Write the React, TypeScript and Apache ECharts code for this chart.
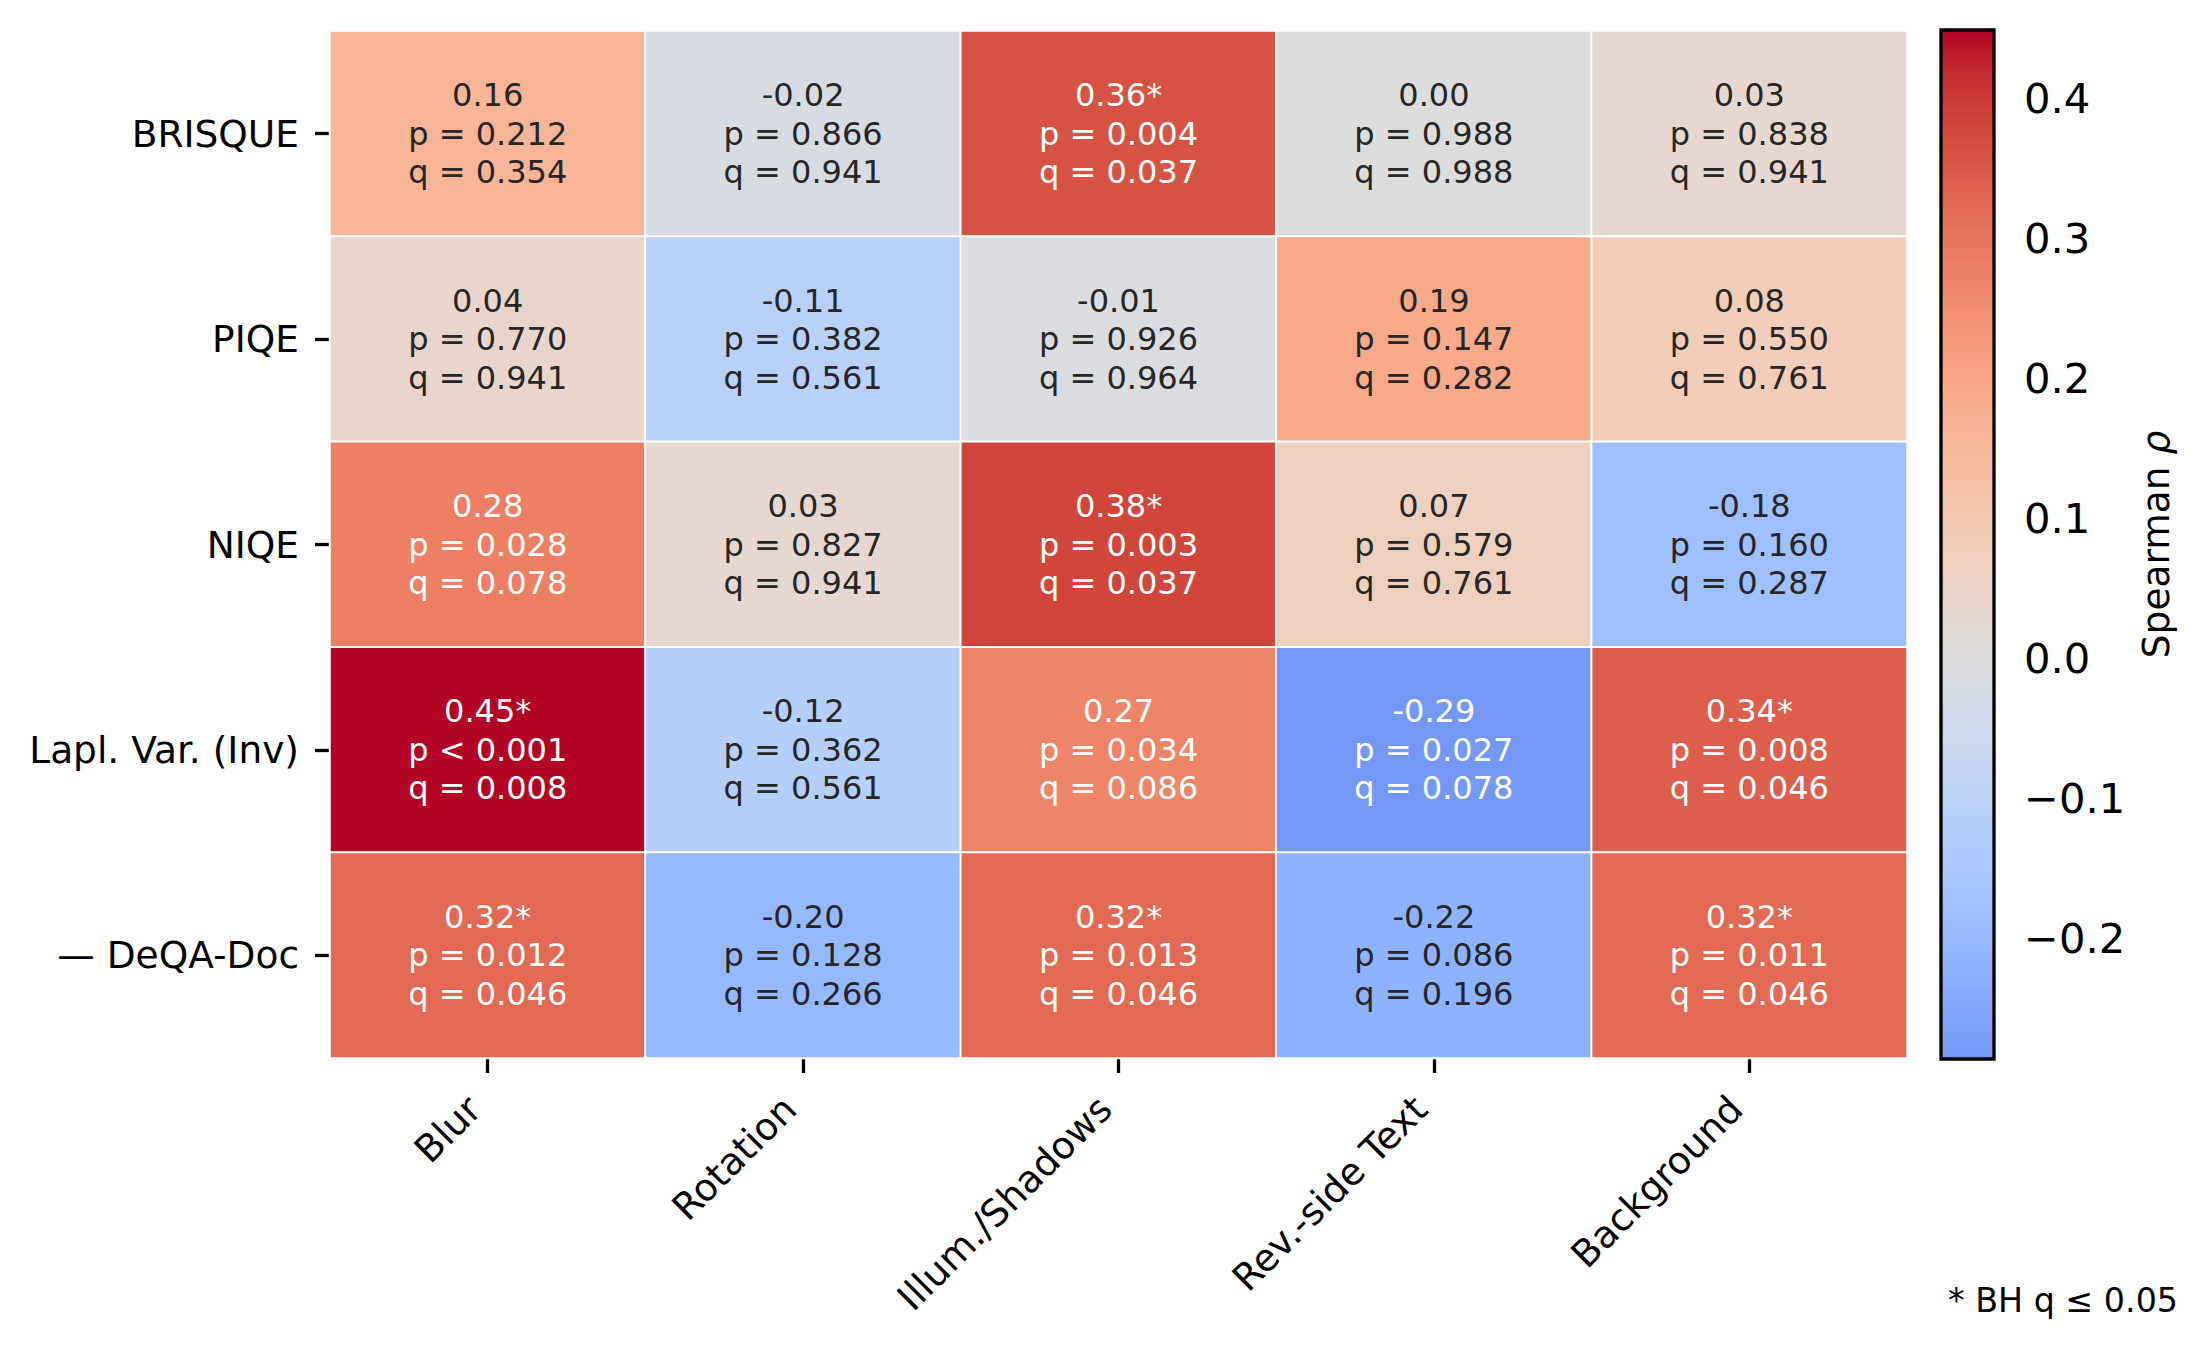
import React, { useEffect, useRef } from "react";
import * as echarts from "echarts";

const rowLabels = ["BRISQUE", "PIQE", "NIQE", "Lapl. Var. (Inv)", "— DeQA-Doc"];
const colLabels = ["Blur", "Rotation", "Illum./Shadows", "Rev.-side Text", "Background"];

const rhoValues = [
  [0.16, -0.02, 0.36, 0.0, 0.03],
  [0.04, -0.11, -0.01, 0.19, 0.08],
  [0.28, 0.03, 0.38, 0.07, -0.18],
  [0.449, -0.12, 0.27, -0.286, 0.34],
  [0.32, -0.2, 0.32, -0.22, 0.32],
];
const pValues = [
  [0.212, 0.866, 0.004, 0.988, 0.838],
  [0.77, 0.382, 0.926, 0.147, 0.55],
  [0.028, 0.827, 0.003, 0.579, 0.16],
  [0.0005, 0.362, 0.034, 0.027, 0.008],
  [0.012, 0.128, 0.013, 0.086, 0.011],
];
const qValues = [
  [0.354, 0.941, 0.037, 0.988, 0.941],
  [0.941, 0.561, 0.964, 0.282, 0.761],
  [0.078, 0.941, 0.037, 0.761, 0.287],
  [0.008, 0.561, 0.086, 0.078, 0.046],
  [0.046, 0.266, 0.046, 0.196, 0.046],
];
const colorbarTicks = [-0.2, -0.1, 0.0, 0.1, 0.2, 0.3, 0.4];
const qThreshold = 0.05;

// matplotlib "coolwarm" (Moreland) reference table, 33 stops
const COOLWARM: number[][] = [
  [59, 76, 192], [68, 90, 204], [77, 104, 215], [87, 117, 225], [98, 130, 234],
  [108, 142, 241], [119, 154, 247], [130, 165, 251], [141, 176, 254], [152, 185, 255],
  [163, 194, 255], [174, 201, 253], [184, 208, 249], [194, 213, 244], [204, 217, 238],
  [213, 219, 230], [221, 221, 221], [229, 216, 209], [236, 211, 197], [241, 204, 184],
  [245, 196, 172], [247, 187, 159], [247, 177, 147], [247, 166, 134], [244, 154, 123],
  [241, 141, 111], [236, 127, 99], [229, 112, 88], [222, 96, 77], [213, 80, 66],
  [203, 62, 56], [192, 40, 47], [180, 4, 38],
];

function coolwarm(u: number): number[] {
  const t = Math.max(0, Math.min(1, u)) * (COOLWARM.length - 1);
  const i = Math.min(Math.floor(t), COOLWARM.length - 2);
  const f = t - i;
  const a = COOLWARM[i], b = COOLWARM[i + 1];
  return [0, 1, 2].map((k) => a[k] + (b[k] - a[k]) * f);
}
const toHex = (c: number[]) =>
  "#" + c.map((v) => Math.round(v).toString(16).padStart(2, "0")).join("");

const flat = rhoValues.flat();
const vmin = Math.min(...flat);
const vmax = Math.max(...flat);
const vrange = Math.max(Math.abs(vmin), Math.abs(vmax)); // center = 0
const colorFor = (v: number) => coolwarm((v + vrange) / (2 * vrange));

function textColorFor(v: number) {
  const rgb = colorFor(v).map((c) => {
    const s = c / 255;
    return s <= 0.03928 ? s / 12.92 : Math.pow((s + 0.055) / 1.055, 2.4);
  });
  const lum = 0.2126 * rgb[0] + 0.7152 * rgb[1] + 0.0722 * rgb[2];
  return lum > 0.408 ? "#262626" : "#ffffff";
}

const N_STOPS = 80;
const visualColors: string[] = [];
for (let i = 0; i <= N_STOPS; i++) {
  const v = vmin + ((vmax - vmin) * i) / N_STOPS;
  visualColors.push(toHex(colorFor(v)));
}

const FONT = "DejaVu Sans";

export default function App() {
  const ref = useRef<HTMLDivElement>(null);
  useEffect(() => {
    if (!ref.current) return;
    const chart = echarts.init(ref.current, undefined, { renderer: "svg" });

    const heatData: any[] = [];
    rowLabels.forEach((_, r) => {
      colLabels.forEach((__, c) => {
        const v = rhoValues[r][c];
        heatData.push({
          value: [c, r, v],
          label: { color: textColorFor(v) },
        });
      });
    });

    const fmtTick = (v: number) => {
      const s = Math.abs(v).toFixed(1);
      return v < -1e-9 ? "\u2212" + s : s;
    };

    const option: any = {
      animation: false,
      backgroundColor: "#ffffff",
      textStyle: { fontFamily: FONT },
      grid: [
        { left: 330, top: 31, width: 1577, height: 1027, containLabel: false },
        { left: 1941, top: 30, width: 53, height: 1029, containLabel: false },
      ],
      xAxis: [
        {
          type: "category",
          gridIndex: 0,
          data: colLabels,
          position: "bottom",
          axisLine: { show: false },
          axisTick: { show: true, alignWithLabel: true, length: 15, lineStyle: { color: "#000", width: 3.3 } },
          axisLabel: {
            rotate: 45,
            align: "right",
            verticalAlign: "bottom",
            margin: 58,
            fontSize: 37.5,
            color: "#000",
            fontFamily: FONT,
            interval: 0,
          },
          splitLine: { show: false },
        },
        {
          type: "value",
          gridIndex: 1,
          min: 0,
          max: 1,
          show: false,
        },
      ],
      yAxis: [
        {
          type: "category",
          gridIndex: 0,
          data: rowLabels,
          inverse: true,
          axisLine: { show: false },
          axisTick: { show: true, alignWithLabel: true, length: 15, lineStyle: { color: "#000", width: 3.3 } },
          axisLabel: { margin: 31, fontSize: 37.5, color: "#000", fontFamily: FONT, interval: 0 },
          splitLine: { show: false },
        },
        {
          type: "value",
          gridIndex: 1,
          position: "right",
          min: vmin,
          max: vmax,
          axisLine: { show: false },
          splitLine: { show: false },
          axisTick: {
            show: true,
            length: 15,
            customValues: colorbarTicks,
            lineStyle: { color: "#000", width: 3.3 },
          },
          axisLabel: {
            customValues: colorbarTicks,
            margin: 30,
            fontSize: 41.7,
            color: "#000",
            fontFamily: FONT,
            formatter: (v: number) => fmtTick(v),
          },
          name: "Spearman {i|ρ}",
          nameLocation: "middle",
          nameRotate: 90,
          nameGap: 143,
          nameTextStyle: {
            fontSize: 37.5,
            color: "#000",
            fontFamily: FONT,
            rich: { i: { fontSize: 37.5, fontStyle: "italic", fontFamily: FONT, color: "#000" } },
          },
        },
      ],
      visualMap: {
        show: false,
        type: "continuous",
        seriesIndex: 0,
        min: vmin,
        max: vmax,
        dimension: 2,
        inRange: { color: visualColors },
      },
      series: [
        {
          type: "heatmap",
          xAxisIndex: 0,
          yAxisIndex: 0,
          data: heatData,
          itemStyle: { borderColor: "#ffffff", borderWidth: 2 },
          emphasis: { disabled: true },
          label: {
            show: true,
            fontSize: 32,
            lineHeight: 38.5,
            fontFamily: FONT,
            align: "center",
            formatter: (p: any) => {
              const c = p.value[0];
              const r = p.value[1];
              const v = rhoValues[r][c];
              const q = qValues[r][c];
              const pv = pValues[r][c];
              const star = q <= qThreshold ? "*" : "";
              const pStr = pv < 0.001 ? "p < 0.001" : "p = " + pv.toFixed(3);
              return v.toFixed(2) + star + "\n" + pStr + "\nq = " + q.toFixed(3);
            },
          },
        },
        {
          type: "custom",
          xAxisIndex: 1,
          yAxisIndex: 1,
          data: [[0, 0]],
          silent: true,
          renderItem: (params: any, api: any) => {
            const tl = api.coord([0, vmax]);
            const br = api.coord([1, vmin]);
            const stops = visualColors.map((col, i) => ({
              offset: 1 - i / (visualColors.length - 1),
              color: col,
            }));
            return {
              type: "rect",
              shape: { x: tl[0], y: tl[1], width: br[0] - tl[0], height: br[1] - tl[1] },
              style: {
                fill: new echarts.graphic.LinearGradient(0, 0, 0, 1, stops.reverse()),
                stroke: "#000",
                lineWidth: 3.3,
              },
            };
          },
        },
      ],
      graphic: [
        {
          type: "text",
          right: 32,
          top: 1284,
          style: {
            text: "* BH q ≤ 0.05",
            fontSize: 33.3,
            fontFamily: FONT,
            fill: "#000",
          },
        },
      ],
    };

    chart.setOption(option);
    return () => chart.dispose();
  }, []);

  return (
    <div
      ref={ref}
      style={{ position: "fixed", left: 0, top: 0, width: 2210, height: 1350, background: "#fff" }}
    />
  );
}
